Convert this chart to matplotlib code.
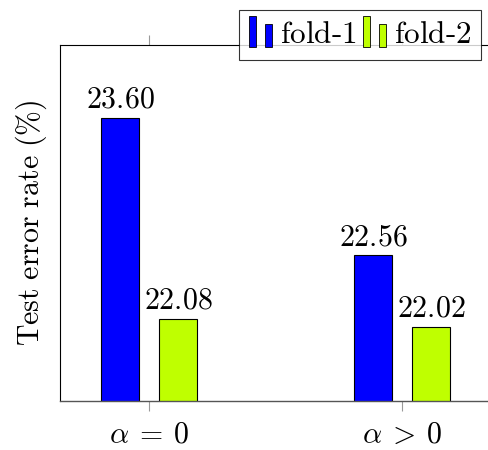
import matplotlib
matplotlib.use("Agg")
import matplotlib.pyplot as plt
from matplotlib.patches import Rectangle
from matplotlib.legend_handler import HandlerBase
import numpy as np

plt.rcParams['mathtext.fontset'] = 'cm'
plt.rcParams['font.family'] = 'serif'
plt.rcParams['font.serif'] = ['DejaVu Serif']

# Dati
categories = [r'$\alpha\:=\:0$', r'$\alpha\:>\:0$']
fold1 = [23.60, 22.56]
fold2 = [22.08, 22.02]
series_names = [r'$\mathrm{fold\text{-}1}$', r'$\mathrm{fold\text{-}2}$']
colors = ['#0000ff', '#bfff00']


class TwoBarHandler(HandlerBase):
    # imitazione della legenda "ybar" di pgfplots: due barrette
    def create_artists(self, legend, orig_handle, xdescent, ydescent,
                       width, height, fontsize, trans):
        fc = orig_handle.get_facecolor()
        w = width * 0.3
        y0 = -ydescent - 0.15 * height
        r1 = Rectangle((-xdescent, y0), w, height * 1.4,
                       facecolor=fc, edgecolor='black', lw=0.6, transform=trans)
        r2 = Rectangle((-xdescent + width * 0.67, y0), w, height * 1.05,
                       facecolor=fc, edgecolor='black', lw=0.6, transform=trans)
        return [r1, r2]


fig = plt.figure(figsize=(4.88, 4.5), dpi=100)
ax = fig.add_axes([60 / 488, 1 - 401 / 450, 431 / 488, 356 / 450])

x = np.arange(len(categories))
width = 0.15
offset = 0.115
b1 = ax.bar(x - offset, fold1, width, color=colors[0], edgecolor='black', lw=0.8)
b2 = ax.bar(x + offset, fold2, width, color=colors[1], edgecolor='black', lw=0.8)

for bars, vals in [(b1, fold1), (b2, fold2)]:
    for bar, v in zip(bars, vals):
        ax.annotate(r'$\mathrm{%.2f}$' % v, (bar.get_x() + bar.get_width() / 2, v),
                    xytext=(0, 3), textcoords='offset points',
                    ha='center', va='bottom', fontsize=21.5)

ax.set_xlim(-0.352, 1.352)
ax.set_ylim(21.46, 24.15)
ax.set_xticks(x)
ax.set_xticklabels(categories, fontsize=21.5)
ax.set_yticks([])
ax.tick_params(axis='x', which='both', direction='out', length=7, width=0.8,
               color='#999999', top=True, pad=7)
ax.set_ylabel(r'$\mathrm{Test\ error\ rate\ (\%)}$', fontsize=21.5, labelpad=8)

for s in ['left', 'top']:
    ax.spines[s].set_color('black')
    ax.spines[s].set_linewidth(0.8)
ax.spines['bottom'].set_color('#555555')
ax.spines['bottom'].set_linewidth(1.0)
ax.spines['right'].set_visible(False)

leg = fig.legend(handles=[b1[0], b2[0]], labels=series_names,
                 handler_map={b1[0]: TwoBarHandler(), b2[0]: TwoBarHandler()},
                 loc='upper right', bbox_to_anchor=(481 / 488, 1 - 10 / 450),
                 bbox_transform=fig.transFigure, ncol=2, fontsize=22.5,
                 frameon=True, fancybox=False, borderaxespad=0,
                 handlelength=0.77, handletextpad=0.23, columnspacing=0.2,
                 borderpad=0.3)
leg.get_frame().set_edgecolor('black')
leg.get_frame().set_linewidth(0.8)

fig.savefig('out.png', dpi=100)
